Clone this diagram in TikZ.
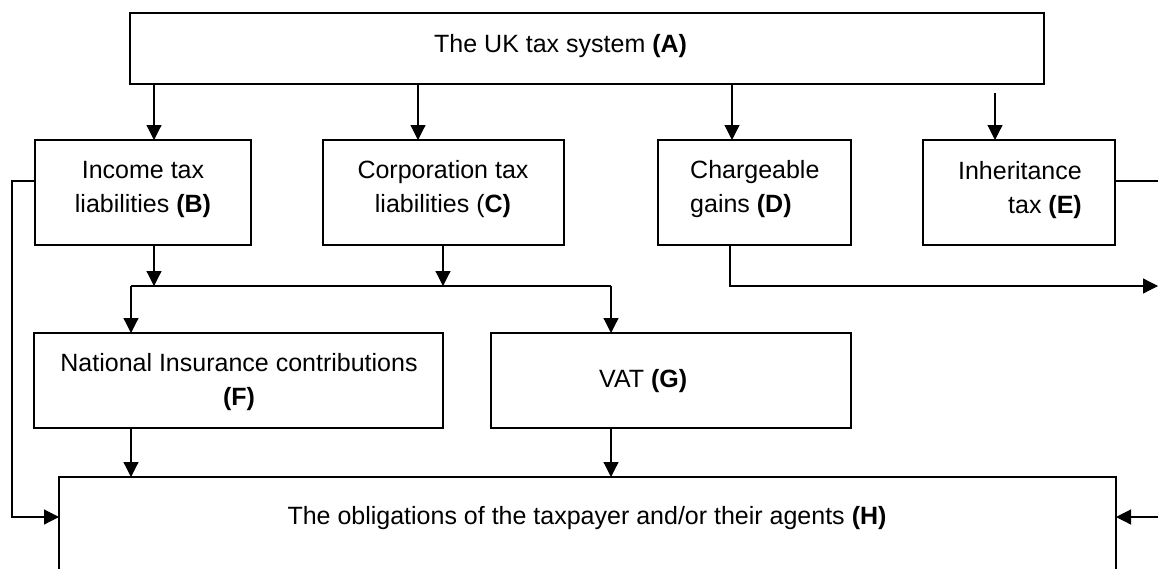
\documentclass[tikz,border=0pt]{standalone}
\usepackage{fontspec}
\setmainfont{Liberation Sans}
\usetikzlibrary{arrows.meta}
\begin{document}
\begin{tikzpicture}[x=1pt,y=-1pt,
  box/.style={draw,line width=1.8pt,inner sep=0pt,outer sep=0pt,anchor=north west},
  txt/.style={inner sep=0pt,font=\fontsize{25}{34}\selectfont},
  conn/.style={line width=1.2pt,-{Triangle[length=15pt,width=15pt]}},
  wire/.style={line width=1.2pt}]
\useasboundingbox (0,0) rectangle (1158,568);
\clip (0,0) rectangle (1158,568);
% boxes
\node[box,minimum width=914pt,minimum height=71pt] (A) at (130,13) {};
\node[box,minimum width=216pt,minimum height=105pt] (B) at (35,140) {};
\node[box,minimum width=241pt,minimum height=105pt] (C) at (323,140) {};
\node[box,minimum width=193pt,minimum height=105pt] (D) at (658,140) {};
\node[box,minimum width=192pt,minimum height=105pt] (E) at (923,140) {};
\node[box,minimum width=409pt,minimum height=95pt] (F) at (34,333) {};
\node[box,minimum width=360pt,minimum height=95pt] (G) at (491,333) {};
\node[box,minimum width=1057pt,minimum height=120pt] (H) at (59,477) {};
% texts
\node[txt,anchor=base west] (At) at (434,52) {The UK tax system \textbf{(A)}};
\node[txt,anchor=base] (Bt1) at (143,178) {Income tax};
\node[txt,anchor=base] (Bt2) at (143,212) {liabilities \textbf{(B)}};
\node[txt,anchor=base] (Ct1) at (443,178) {Corporation tax};
\node[txt,anchor=base] (Ct2) at (443,212) {liabilities (\textbf{C)}};
\node[txt,anchor=base west] (Dt1) at (690,178) {Chargeable};
\node[txt,anchor=base west] (Dt2) at (690,212) {gains \textbf{(D)}};
\node[txt,anchor=base east] (Et1) at (1082,179) {Inheritance};
\node[txt,anchor=base east] (Et2) at (1082,213) {tax \textbf{(E)}};
\node[txt,anchor=base] (Ft1) at (239,371) {National Insurance contributions};
\node[txt,anchor=base] (Ft2) at (239,405) {\textbf{(F)}};
\node[txt,anchor=base west] (Gt) at (599,387) {VAT \textbf{(G)}};
\node[txt,anchor=base] (Ht) at (587,524) {The obligations of the taxpayer and/or their agents \textbf{(H)}};
% helper coordinates
\coordinate (xb) at (154,0);
\coordinate (xc) at (418,0);
\coordinate (xd) at (732,0);
\coordinate (e0) at (995,93);
\coordinate (xc2) at (443,0);
\coordinate (xl) at (131,0);
\coordinate (xr) at (611,0);
\coordinate (xd2) at (730,0);
\coordinate (j) at (0,286);
\coordinate (dend) at (1158,286);
\coordinate (ly) at (0,181);
\coordinate (er) at (1180,517);
\coordinate (bl) at (12,517);
% connectors
\draw[conn] (A.south -| xb) -- (B.north -| xb);
\draw[conn] (A.south -| xc) -- (C.north -| xc);
\draw[conn] (A.south -| xd) -- (D.north -| xd);
\draw[conn] (e0) -- (E.north -| e0);
\draw[conn] (B.south -| xb) -- (xb |- j);
\draw[conn] (C.south -| xc2) -- (xc2 |- j);
\draw[wire] (xl |- j) -- (xr |- j);
\draw[conn] (xl |- j) -- (F.north -| xl);
\draw[conn] (xr |- j) -- (G.north -| xr);
\draw[conn] (F.south -| xl) -- (H.north -| xl);
\draw[conn] (G.south -| xr) -- (H.north -| xr);
\draw[conn] (D.south -| xd2) |- (dend);
\draw[conn] (E.east |- ly) -| (er) -- (er -| H.east);
\draw[conn] (B.west |- ly) -| (bl) -- (bl -| H.west);
\end{tikzpicture}
\end{document}
